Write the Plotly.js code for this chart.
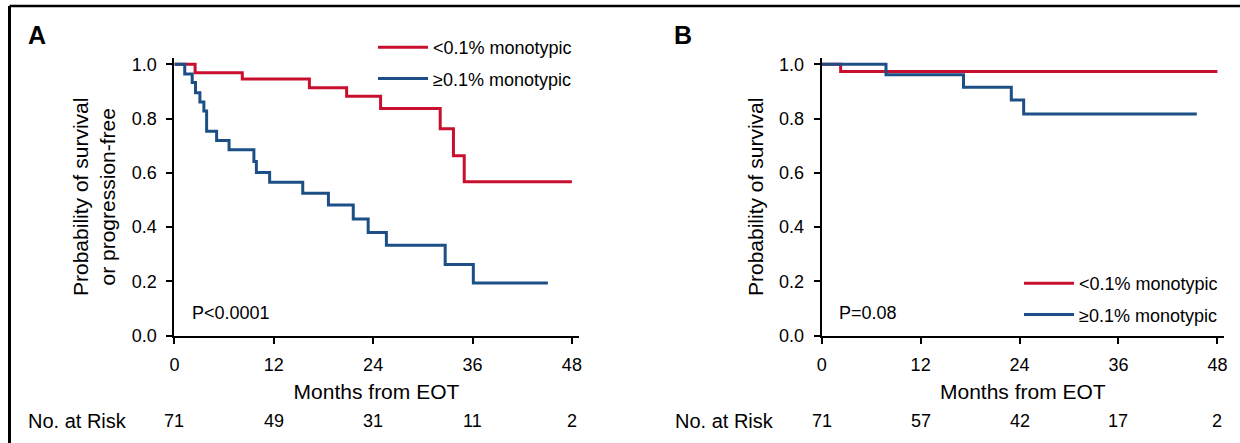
<!DOCTYPE html>
<html>
<head>
<meta charset="utf-8">
<script src="https://cdn.plot.ly/plotly-3.0.1.min.js"></script>
<style>
  html, body { margin: 0; padding: 0; background: #ffffff; }
  #chart { width: 1240px; height: 443px; }
</style>
</head>
<body>
<div id="chart"></div>
<script>
// ---------- Data ----------
// Panel A: survival or progression-free
const monthsA_low  = [0, 2.5, 8.2, 16.3, 20.8, 24.9, 32.1, 33.7, 35.0, 48.0];
const probA_low    = [1.0, 0.969, 0.946, 0.913, 0.882, 0.837, 0.762, 0.663, 0.567, 0.567];
const monthsA_high = [0, 1.25, 2.15, 2.55, 3.08, 3.56, 3.89, 5.1, 6.6, 9.6, 9.9, 11.5, 15.5, 18.6, 21.6, 23.4, 25.6, 32.7, 36.1, 45.1];
const probA_high   = [1.0, 0.964, 0.933, 0.895, 0.861, 0.828, 0.753, 0.719, 0.685, 0.642, 0.601, 0.565, 0.525, 0.481, 0.430, 0.380, 0.333, 0.262, 0.194, 0.194];

// Panel B: survival
const monthsB_low  = [0, 2.3, 48.0];
const probB_low    = [1.0, 0.973, 0.973];
const monthsB_high = [0, 7.8, 17.2, 23.0, 24.5, 45.5];
const probB_high   = [1.0, 0.961, 0.915, 0.868, 0.817, 0.817];

// Axis ticks and number at risk
const monthTicks = [0, 12, 24, 36, 48];
const riskA = [71, 49, 31, 11, 2];
const riskB = [71, 57, 42, 17, 2];

const seriesNames = ['<0.1% monotypic', '\u22650.1% monotypic'];
const pValues = ['P<0.0001', 'P=0.08'];
const panelLabels = ['A', 'B'];
const yTitles = ['Probability of survival<br>or progression-free', 'Probability of survival'];
const xTitle = 'Months from EOT';
const riskLabel = 'No. at Risk';

// ---------- Styling ----------
const RED = '#c8102e';
const BLUE = '#1c4f86';
const FONT = 'Liberation Sans, Arial, Helvetica, sans-serif';
const W = 1240, H = 443;
const px = v => v / W;           // pixel -> paper x
const py = v => 1 - v / H;       // pixel -> paper y

function stepTrace(x, y, name, color, xa, ya, legend) {
  return {
    x: x, y: y, name: name, type: 'scatter', mode: 'lines',
    line: { shape: 'hv', color: color, width: 3 },
    xaxis: xa, yaxis: ya, legend: legend, legendgroup: legend + name,
    cliponaxis: false, hoverinfo: 'skip'
  };
}

const traces = [
  stepTrace(monthsA_low,  probA_low,  seriesNames[0], RED,  'x',  'y',  'legend'),
  stepTrace(monthsA_high, probA_high, seriesNames[1], BLUE, 'x',  'y',  'legend'),
  stepTrace(monthsB_low,  probB_low,  seriesNames[0], RED,  'x2', 'y2', 'legend2'),
  stepTrace(monthsB_high, probB_high, seriesNames[1], BLUE, 'x2', 'y2', 'legend2')
];

function xAxis(domain, anchor) {
  return {
    domain: domain, anchor: anchor, range: [0, 48.8],
    tickvals: monthTicks, ticktext: monthTicks.map(String),
    showline: true, linecolor: '#000', linewidth: 2,
    ticks: 'outside', ticklen: 6, tickwidth: 2, tickcolor: '#000',
    ticklabelstandoff: 6,
    showgrid: false, zeroline: false,
    tickfont: { family: FONT, size: 18, color: '#000' },
    title: { text: xTitle, font: { family: FONT, size: 21, color: '#000' }, standoff: 10 }
  };
}
function yAxis(domain, anchor, title, standoff) {
  return {
    domain: domain, anchor: anchor, range: [0, 1.023],
    tickvals: [0, 0.2, 0.4, 0.6, 0.8, 1.0], tickformat: '.1f',
    showline: true, linecolor: '#000', linewidth: 2,
    ticks: 'outside', ticklen: 6, tickwidth: 2, tickcolor: '#000',
    ticklabelstandoff: 6,
    showgrid: false, zeroline: false,
    tickfont: { family: FONT, size: 18, color: '#000' },
    title: { text: title, font: { family: FONT, size: 21, color: '#000' }, standoff: standoff }
  };
}

const yDom = [py(335.6), py(58)];
const layout = {
  width: W, height: H,
  margin: { l: 0, r: 0, t: 0, b: 0 },
  paper_bgcolor: '#fff', plot_bgcolor: 'rgba(0,0,0,0)',
  font: { family: FONT, color: '#000' },
  xaxis:  xAxis([px(174.4), px(578.5)], 'y'),
  yaxis:  yAxis(yDom, 'x', yTitles[0], 10),
  xaxis2: xAxis([px(821.7), px(1224)], 'y2'),
  yaxis2: yAxis(yDom, 'x2', yTitles[1], 10),
  legend: {
    x: px(373), y: py(29), xanchor: 'left', yanchor: 'top',
    bgcolor: 'rgba(0,0,0,0)', borderwidth: 0, itemwidth: 50,
    tracegroupgap: 5,
    font: { family: FONT, size: 18, color: '#000' }
  },
  legend2: {
    x: px(1019), y: py(265), xanchor: 'left', yanchor: 'top',
    bgcolor: 'rgba(0,0,0,0)', borderwidth: 0, itemwidth: 50,
    tracegroupgap: 5,
    font: { family: FONT, size: 18, color: '#000' }
  },
  showlegend: true,
  shapes: [
    { type: 'line', xref: 'paper', yref: 'paper', x0: px(9.5), x1: 1, y0: py(6), y1: py(6), line: { color: '#000', width: 2.5 } },
    { type: 'line', xref: 'paper', yref: 'paper', x0: px(9.5), x1: px(9.5), y0: py(6), y1: 0, line: { color: '#000', width: 3 } }
  ],
  annotations: []
};

const ann = layout.annotations;
// panel letters
ann.push({ text: '<b>' + panelLabels[0] + '</b>', xref: 'paper', yref: 'paper', x: px(37), y: py(35), xanchor: 'center', yanchor: 'middle', showarrow: false, font: { family: FONT, size: 25, color: '#000' } });
ann.push({ text: '<b>' + panelLabels[1] + '</b>', xref: 'paper', yref: 'paper', x: px(683), y: py(35), xanchor: 'center', yanchor: 'middle', showarrow: false, font: { family: FONT, size: 25, color: '#000' } });
// p-values
ann.push({ text: pValues[0], xref: 'x', yref: 'y', x: 1.9, y: 0.083, xanchor: 'left', yanchor: 'middle', showarrow: false, font: { family: FONT, size: 18, color: '#000' } });
ann.push({ text: pValues[1], xref: 'x2', yref: 'y2', x: 1.8, y: 0.083, xanchor: 'left', yanchor: 'middle', showarrow: false, font: { family: FONT, size: 18, color: '#000' } });
// number at risk
ann.push({ text: riskLabel, xref: 'paper', yref: 'paper', x: px(26), y: py(421), xanchor: 'left', yanchor: 'middle', showarrow: false, font: { family: FONT, size: 20, color: '#000' } });
ann.push({ text: riskLabel, xref: 'paper', yref: 'paper', x: px(673), y: py(421), xanchor: 'left', yanchor: 'middle', showarrow: false, font: { family: FONT, size: 20, color: '#000' } });
monthTicks.forEach((m, i) => {
  ann.push({ text: String(riskA[i]), xref: 'x', yref: 'paper', x: m, y: py(421), xanchor: 'center', yanchor: 'middle', showarrow: false, font: { family: FONT, size: 18, color: '#000' } });
  ann.push({ text: String(riskB[i]), xref: 'x2', yref: 'paper', x: m, y: py(421), xanchor: 'center', yanchor: 'middle', showarrow: false, font: { family: FONT, size: 18, color: '#000' } });
});

Plotly.newPlot('chart', traces, layout, { staticPlot: true, displayModeBar: false });
</script>
</body>
</html>
